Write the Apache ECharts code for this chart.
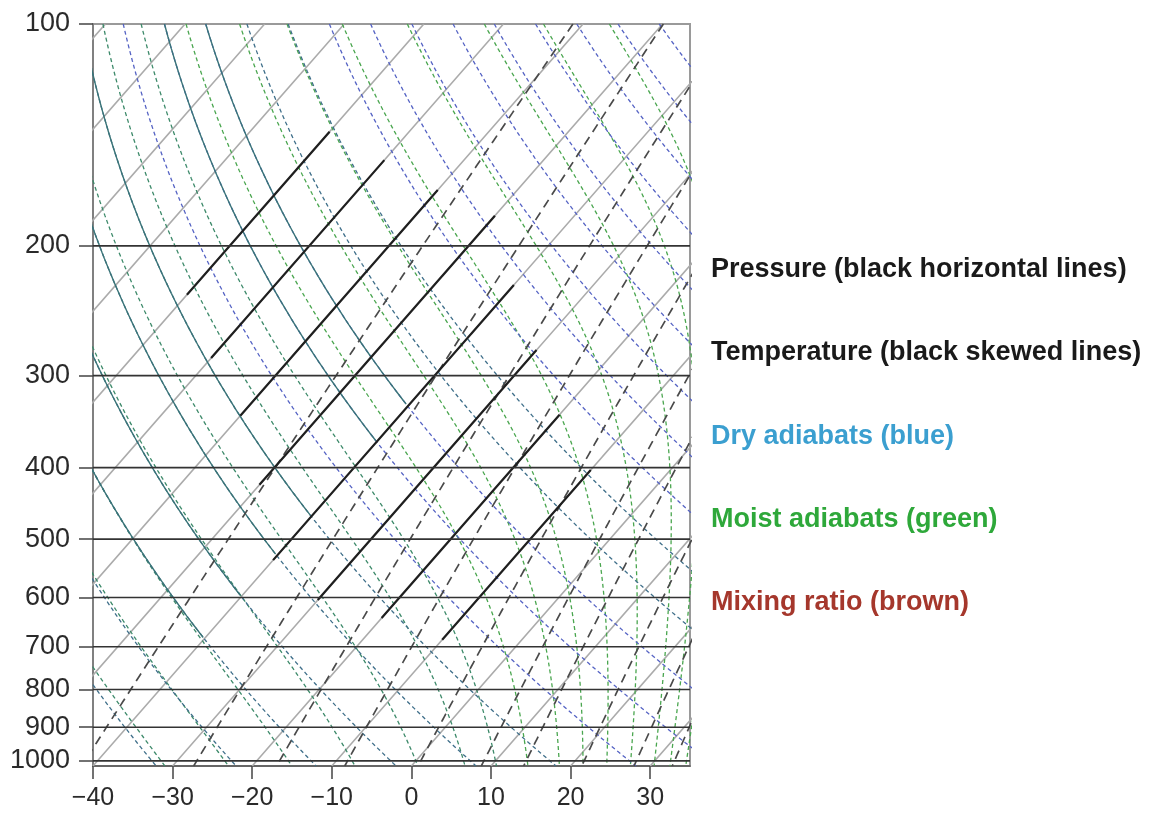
<!DOCTYPE html>
<html><head><meta charset="utf-8">
<script src="https://cdn.jsdelivr.net/npm/echarts@6/dist/echarts.min.js"></script>
<style>html,body{margin:0;padding:0;background:#fff}#c{width:1157px;height:820px}</style>
</head><body><div id="c"></div>
<script>
// ---- data ----
const xTickValues = [-40, -30, -20, -10, 0, 10, 20, 30];
const pressureTickValues = [100, 200, 300, 400, 500, 600, 700, 800, 900, 1000];
const pressureLines = [200, 300, 400, 500, 600, 700, 800, 900, 1000];
const isothermTemps = [-120, -110, -100, -90, -80, -70, -60, -50, -40, -30, -20, -10, 0, 10, 20, 30];
// [temperature °C, bottom pressure hPa, top pressure hPa]
const blackIsotherms = [[-80, 233, 140], [-70, 284, 153], [-60, 340, 168], [-50, 422, 182], [-40, 534, 226], [-30, 605, 277], [-20, 640, 339], [-10, 685, 403]];
const dryAdiabatTheta = [240, 250, 260, 270, 280, 290, 300, 310, 320, 330, 340, 350, 360, 370, 380, 390, 400, 410, 420, 430, 440, 450]; // K
const solidDryAdiabats = [260, 270, 280, 290, 310, 320]; // K, drawn solid teal where colder than -40 °C
const moistAdiabatStart = [-32, -24, -16, -8, 0, 6, 10, 14, 18, 21, 24, 27, 30, 32, 34]; // °C at 1000 hPa
const mixingRatios = [0.1, 0.4, 1, 2, 4, 7, 10, 16, 24, 32]; // g/kg
const legendTexts = ['Pressure (black horizontal lines)', 'Temperature (black skewed lines)', 'Dry adiabats (blue)', 'Moist adiabats (green)', 'Mixing ratio (brown)'];
const legendColors = ['#1a1a1a', '#1a1a1a', '#3b9fd0', '#2ea83a', '#a5372c'];

// ---- skew-T helpers ----
const SKEW = 81, P_REF = 1016, P_TOP = 100, P_BOT = 1016;
const sx = (T, p) => T + SKEW * Math.log10(P_REF / p);
const pGrid = [];
for (let p = P_TOP; p < P_BOT; p += 4) pGrid.push(p);
pGrid.push(P_BOT);
const es = Tc => 6.112 * Math.exp(17.67 * Tc / (Tc + 243.5));
function moistLapse(p, Tk) {
  const Rd = 287.04, cp = 1005.7, Lv = 2.501e6, eps = 0.622;
  const e = es(Tk - 273.15), rs = eps * e / (p - e);
  return (Rd * Tk + Lv * rs) / (p * (cp + Lv * Lv * rs * eps / (Rd * Tk * Tk)));
}
function rk(p, T, h) {
  const k1 = moistLapse(p, T), k2 = moistLapse(p + h / 2, T + h / 2 * k1), k3 = moistLapse(p + h / 2, T + h / 2 * k2), k4 = moistLapse(p + h, T + h * k3);
  return T + h / 6 * (k1 + 2 * k2 + 2 * k3 + k4);
}
function moistCurve(T0c) {
  let T = T0c + 273.15;
  const up = [];
  for (let p = 1000; p >= P_TOP; p -= 2) { up.push([sx(T - 273.15, p), p]); T = rk(p, T, -2); }
  T = T0c + 273.15;
  const down = [];
  for (let p = 1000; p < P_BOT; p += 2) { T = rk(p, T, 2); down.push([sx(T - 273.15, p + 2), p + 2]); }
  return up.reverse().concat(down);
}
function mixingCurve(w) {
  const r = w / 1000;
  return pGrid.map(p => {
    const e = r * p / (0.622 + r), l = Math.log(e / 6.112);
    return [sx(243.5 * l / (17.67 - l), p), p];
  });
}

const series = [];
const line = (data, color, width, type, z) => series.push({
  type: 'line', data, showSymbol: false, silent: true, animation: false, clip: true, z: z || 2,
  lineStyle: { color, width, type: type || 'solid' }
});

isothermTemps.forEach(T => line([[sx(T, P_TOP), P_TOP], [sx(T, P_BOT), P_BOT]], '#ababab', 1.6, 'solid', 2));
moistAdiabatStart.forEach(t0 => line(moistCurve(t0), t0 < 12 ? '#3d8a6a' : '#4aa64f', 1.3, [4, 3], 3));
dryAdiabatTheta.forEach(th => {
  const tAt = p => th * Math.pow(p / 1000, 0.2857) - 273.15;
  const pts = pGrid.map(p => [sx(tAt(p), p), p]);
  line(pts, th < 300 || th === 330 || th === 340 ? '#3f6f8a' : '#5563c4', 1.3, [4, 3], 3);
  if (solidDryAdiabats.includes(th)) {
    const cold = pGrid.filter(p => tAt(p) < -40).map(p => [sx(tAt(p), p), p]);
    if (cold.length > 1) line(cold, '#3a7478', 1.4, 'solid', 4);
  }
});
mixingRatios.forEach(w => line(mixingCurve(w), '#4a4a4a', 1.7, [9, 6], 4));
blackIsotherms.forEach(([T, pb, pt]) => line([[sx(T, pb), pb], [sx(T, pt), pt]], '#1f1f1f', 2.2, 'solid', 5));
pressureLines.forEach(p => line([[-40, p], [35, p]], '#333333', 1.6, 'solid', 6));

const chart = echarts.init(document.getElementById('c'), null, { renderer: 'canvas' });
chart.setOption({
  animation: false,
  backgroundColor: '#fff',
  grid: { left: 93, right: 467, top: 24, bottom: 54, show: true, borderColor: '#9a9a9a', borderWidth: 2, backgroundColor: 'transparent' },
  xAxis: {
    type: 'value', min: -40, max: 35, interval: 10,
    axisLine: { show: true, onZero: false, lineStyle: { color: '#555', width: 1.5 } },
    axisTick: { show: true, length: 13, lineStyle: { color: '#444', width: 1.5 }, customValues: xTickValues },
    axisLabel: { fontSize: 25, color: '#2a2a2a', fontFamily: 'Liberation Sans, Arial', margin: 20, customValues: xTickValues, formatter: v => (v < 0 ? '\u2212' + Math.abs(v) : String(v)) },
    splitLine: { show: false }
  },
  yAxis: {
    type: 'log', logBase: 10, min: P_TOP, max: P_BOT, inverse: true,
    axisLine: { show: true, onZero: false, lineStyle: { color: '#777', width: 1.5 } },
    axisTick: { show: true, length: 14, lineStyle: { color: '#444', width: 1.5 }, customValues: pressureTickValues },
    axisLabel: { fontSize: 27, color: '#2a2a2a', fontFamily: 'Liberation Sans, Arial', margin: 23, customValues: pressureTickValues, formatter: v => String(Math.round(v)) },
    splitLine: { show: false }, minorTick: { show: false }
  },
  graphic: legendTexts.map((t, i) => ({
    type: 'text', left: 711, top: 256 + i * 83.3,
    style: { text: t, fill: legendColors[i], font: 'bold 27px "Liberation Sans", Arial' }
  })),
  series
});
</script></body></html>
